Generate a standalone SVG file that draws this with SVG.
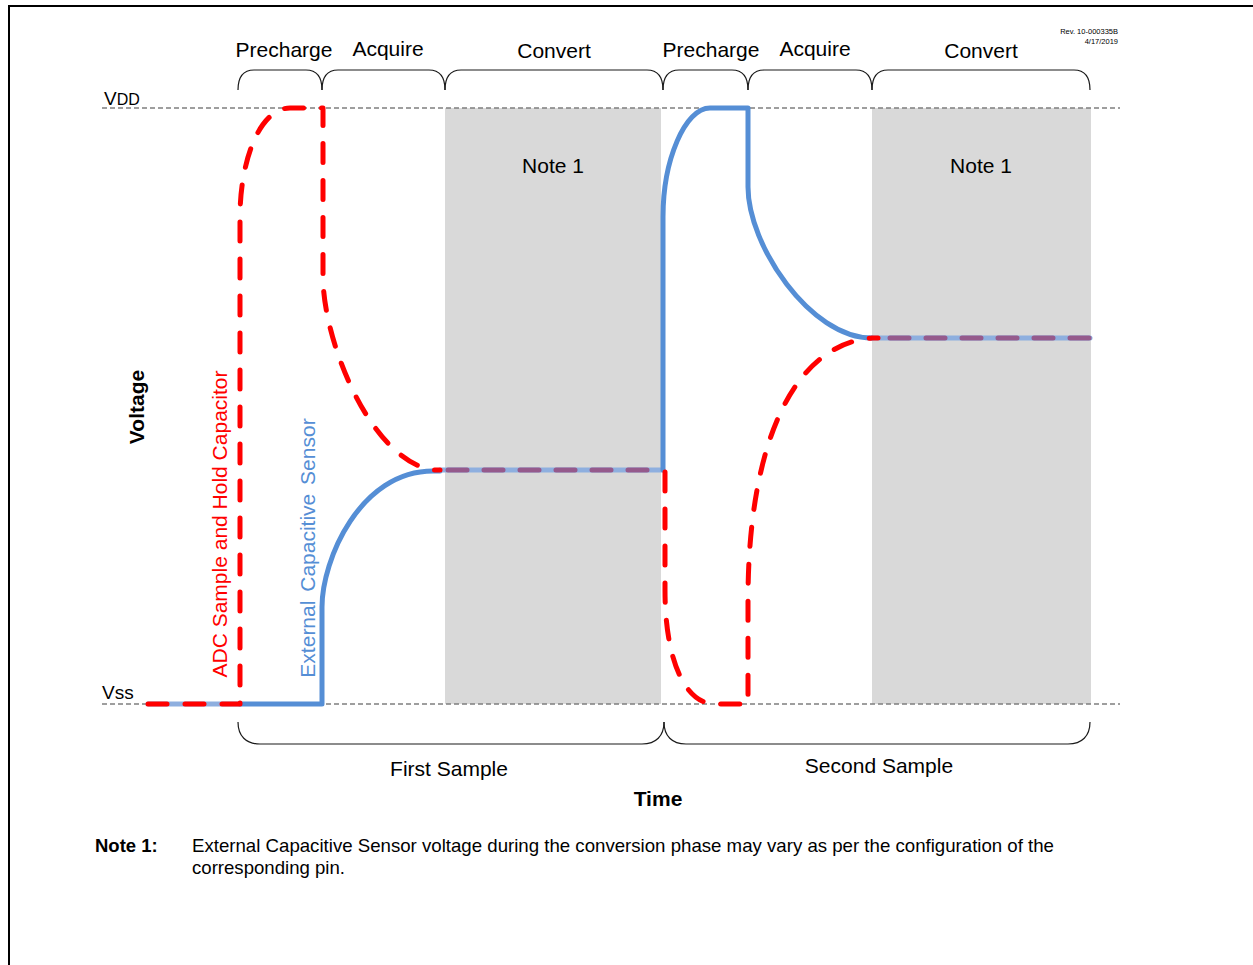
<svg xmlns="http://www.w3.org/2000/svg" width="1253" height="965" viewBox="0 0 1253 965">
  <style>
    text { font-family: "Liberation Sans", Arial, sans-serif; fill: #000; }
    .lbl { font-size: 21px; }
    .bold { font-weight: bold; }
    .rail { stroke: #7f7f7f; stroke-width: 1.3; stroke-dasharray: 5 3; fill: none; }
    .brace { stroke: #1a1a1a; stroke-width: 1.2; fill: none; }
    .shade { fill: #d9d9d9; }
    .blue { stroke: #558ed5; stroke-width: 5; fill: none; stroke-linejoin: round; stroke-linecap: round; }
    .lblue { stroke: #8eafdf; stroke-width: 5; fill: none; stroke-linecap: round; }
    .red { stroke: #ff0000; stroke-width: 5; fill: none; stroke-dasharray: 19 18; stroke-linecap: round; stroke-linejoin: round; }
    .mix { stroke: #955a8c; stroke-width: 5; fill: none; stroke-dasharray: 19 17; stroke-linecap: round; }
  </style>

  <g id="frame">
    <line x1="9" y1="6" x2="1253" y2="6" stroke="#000" stroke-width="2"/>
    <line x1="9" y1="5" x2="9" y2="965" stroke="#000" stroke-width="2"/>
  </g>

  <g id="convert-shading">
    <rect class="shade" x="445" y="108" width="216" height="596"/>
    <rect class="shade" x="872" y="108" width="219" height="596"/>
  </g>

  <g id="rails">
    <line class="rail" x1="102" y1="108" x2="1120" y2="108"/>
    <line class="rail" x1="102" y1="704" x2="1120" y2="704"/>
  </g>

  <g id="rail-labels">
    <text x="104" y="105" font-size="19">V<tspan font-size="16">DD</tspan></text>
    <text x="102" y="699" font-size="19">Vss</text>
  </g>

  <g id="rev">
    <text x="1118" y="34" font-size="7.5" text-anchor="end">Rev. 10-000335B</text>
    <text x="1118" y="44" font-size="7.5" text-anchor="end">4/17/2019</text>
  </g>

  <g id="phase-braces">
    <path class="brace" d="M238,90 C238,78 243,70 254,70 L306,70 C317,70 322,78 322,90"/>
    <path class="brace" d="M322,90 C322,78 327,70 338,70 L429,70 C440,70 445,78 445,90"/>
    <path class="brace" d="M445,90 C445,78 450,70 461,70 L647,70 C658,70 663,78 663,90"/>
    <path class="brace" d="M663,90 C663,78 668,70 679,70 L732,70 C743,70 748,78 748,90"/>
    <path class="brace" d="M748,90 C748,78 753,70 764,70 L856,70 C867,70 872,78 872,90"/>
    <path class="brace" d="M872,90 C872,78 877,70 888,70 L1074,70 C1085,70 1090,78 1090,90"/>
  </g>

  <g id="phase-labels">
    <text class="lbl" x="284" y="57" text-anchor="middle">Precharge</text>
    <text class="lbl" x="388" y="56" text-anchor="middle">Acquire</text>
    <text class="lbl" x="554" y="58" text-anchor="middle">Convert</text>
    <text class="lbl" x="711" y="57" text-anchor="middle">Precharge</text>
    <text class="lbl" x="815" y="56" text-anchor="middle">Acquire</text>
    <text class="lbl" x="981" y="58" text-anchor="middle">Convert</text>
  </g>

  <g id="notes-in-plot">
    <text class="lbl" x="553" y="173" text-anchor="middle">Note 1</text>
    <text class="lbl" x="981" y="173" text-anchor="middle">Note 1</text>
  </g>

  <g id="sample-braces">
    <path class="brace" d="M238,722 C238,736 246,744 260,744 L642,744 C656,744 664,736 664,722"/>
    <path class="brace" d="M664,722 C664,736 672,744 686,744 L1068,744 C1082,744 1090,736 1090,722"/>
  </g>

  <g id="sample-labels">
    <text class="lbl" x="449" y="776" text-anchor="middle">First Sample</text>
    <text class="lbl" x="879" y="773" text-anchor="middle">Second Sample</text>
  </g>

  <g id="axis-labels">
    <text class="lbl bold" x="658" y="806" text-anchor="middle">Time</text>
    <text class="lbl bold" transform="translate(144,407) rotate(-90)" text-anchor="middle">Voltage</text>
  </g>

  <g id="connectors">
    <g id="sensor-wave">
      <path class="lblue" d="M148,704 L240,704"/>
      <path class="blue" d="M240,704 L322,704 L322,607 C322,560 360,471 433,471 L440,471"/>
      <path class="lblue" d="M440,470 L663,470"/>
      <path class="blue" d="M663,470 L663,217 C663,160 685,108 710,108 L748,108 L748,187 C748,245 810,338 872,338"/>
      <path class="lblue" d="M872,338 L1090,338"/>
    </g>
    <g id="capacitor-wave">
      <path class="red" d="M148,704 L240,704 L240,217 C240,160 260,108 290,108 L323,108 L323,277 C323,340 370,460 433,470 L440,470"/>
      <path class="mix" d="M448,470 L663,470"/>
      <path class="red" d="M665,472 L665,590 C665,660 685,704 715,704 L748,704 L748,600 C748,450 790,345 872,338 L878,338"/>
      <path class="mix" d="M890,338 L1090,338"/>
    </g>
  </g>

  <g id="wave-labels">
    <text class="lbl" fill="#ff0000" style="fill:#ff0000" transform="translate(227,524) rotate(-90)" text-anchor="middle">ADC Sample and Hold Capacitor</text>
    <text class="lbl" style="fill:#558ed5" transform="translate(315,548) rotate(-90)" text-anchor="middle" word-spacing="3">External Capacitive Sensor</text>
  </g>

  <g id="footnote">
    <text class="bold" x="95" y="852" font-size="18.5">Note 1:</text>
    <text x="192" y="852" font-size="18.5" textLength="862" lengthAdjust="spacingAndGlyphs">External Capacitive Sensor voltage during the conversion phase may vary as per the configuration of the</text>
    <text x="192" y="874" font-size="18.5" textLength="153" lengthAdjust="spacingAndGlyphs">corresponding pin.</text>
  </g>
</svg>
